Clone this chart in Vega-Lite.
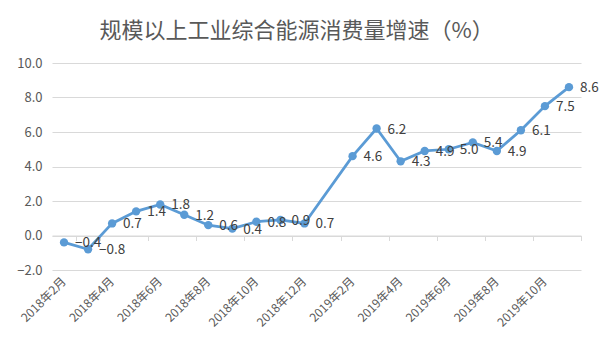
{
  "$schema": "https://vega.github.io/schema/vega-lite/v6.json",
  "autosize": {"type": "none"},
  "width": 529,
  "height": 207,
  "padding": {"left": 52, "top": 63, "right": 19, "bottom": 87},
  "background": "white",
  "config": {"view": {"stroke": null}, "font": "Noto Sans CJK SC"},
  "title": {
    "text": "规模以上工业综合能源消费量增速（%）",
    "anchor": "middle",
    "dx": -20,
    "offset": 14,
    "fontSize": 22,
    "fontWeight": "normal",
    "color": "#595959",
    "font": "Noto Sans CJK SC"
  },
  "data": {
    "values": [
      {"month": "2018年2月", "value": -0.4},
      {"month": "2018年3月", "value": -0.8},
      {"month": "2018年4月", "value": 0.7},
      {"month": "2018年5月", "value": 1.4},
      {"month": "2018年6月", "value": 1.8},
      {"month": "2018年7月", "value": 1.2},
      {"month": "2018年8月", "value": 0.6},
      {"month": "2018年9月", "value": 0.4},
      {"month": "2018年10月", "value": 0.8},
      {"month": "2018年11月", "value": 0.9},
      {"month": "2018年12月", "value": 0.7},
      {"month": "2019年2月", "value": 4.6},
      {"month": "2019年3月", "value": 6.2},
      {"month": "2019年4月", "value": 4.3},
      {"month": "2019年5月", "value": 4.9},
      {"month": "2019年6月", "value": 5.0},
      {"month": "2019年7月", "value": 5.4},
      {"month": "2019年8月", "value": 4.9},
      {"month": "2019年9月", "value": 6.1},
      {"month": "2019年10月", "value": 7.5},
      {"month": "2019年11月", "value": 8.6}
    ]
  },
  "encoding": {
    "x": {
      "field": "month",
      "type": "ordinal",
      "bandPosition": 0.5,
      "scale": {
        "type": "band",
        "paddingInner": 0,
        "paddingOuter": 0,
        "domain": ["2018年2月","2018年3月","2018年4月","2018年5月","2018年6月","2018年7月","2018年8月","2018年9月","2018年10月","2018年11月","2018年12月","2019年1月","2019年2月","2019年3月","2019年4月","2019年5月","2019年6月","2019年7月","2019年8月","2019年9月","2019年10月","2019年11月"]
      }
    },
    "y": {
      "field": "value",
      "type": "quantitative",
      "scale": {"domain": [-2, 10], "nice": false, "zero": false},
      "axis": {
        "title": null,
        "values": [-2, 0, 2, 4, 6, 8, 10],
        "format": ".1f",
        "domain": false,
        "ticks": false,
        "grid": true,
        "gridColor": "#d9d9d9",
        "gridWidth": 1,
        "labelColor": "#595959",
        "labelFontSize": 13,
        "labelPadding": 10,
        "labelFont": "Noto Sans CJK SC"
      }
    }
  },
  "layer": [
    {
      "mark": {"type": "line", "color": "#5b9bd5", "strokeWidth": 2.75},
      "encoding": {
        "x": {
          "field": "month",
          "type": "ordinal",
          "bandPosition": 0.5,
          "axis": {
            "orient": "bottom",
            "title": null,
            "values": ["2018年2月","2018年4月","2018年6月","2018年8月","2018年10月","2018年12月","2019年2月","2019年4月","2019年6月","2019年8月","2019年10月"],
            "labelAngle": -45,
            "labelAlign": "right",
            "labelBaseline": "middle",
            "labelColor": "#595959",
            "labelFontSize": 12,
            "labelFont": "Noto Sans CJK SC",
            "labelPadding": 9,
            "domain": false,
            "ticks": false,
            "grid": false
          }
        }
      }
    },
    {
      "mark": {"type": "point", "filled": true, "opacity": 1, "color": "#5b9bd5", "size": 70},
      "encoding": {
        "x": {
          "field": "month",
          "type": "ordinal",
          "bandPosition": 0.5,
          "axis": {
            "orient": "bottom",
            "title": null,
            "values": ["2018年3月","2018年5月","2018年7月","2018年9月","2018年11月","2019年1月","2019年3月","2019年5月","2019年7月","2019年9月","2019年11月"],
            "labels": false,
            "offset": -34.5,
            "domain": true,
            "domainColor": "#d9d9d9",
            "domainWidth": 1,
            "ticks": true,
            "tickColor": "#d9d9d9",
            "tickSize": 5,
            "tickBand": "extent",
            "grid": false
          }
        }
      }
    },
    {
      "mark": {"type": "text", "align": "left", "baseline": "middle", "dx": 11, "dy": 1, "fontSize": 13.5, "color": "#404040", "font": "Noto Sans CJK SC"},
      "encoding": {
        "x": {
          "field": "month",
          "type": "ordinal",
          "bandPosition": 0.5,
          "axis": null
        },
        "text": {"field": "value", "type": "quantitative", "format": ".1f"}
      }
    }
  ],
  "resolve": {"axis": {"x": "independent"}}
}
